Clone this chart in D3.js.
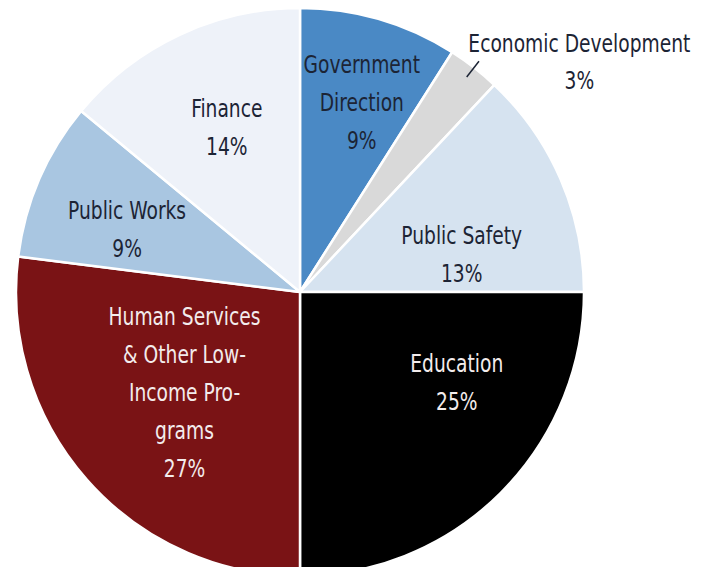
<!DOCTYPE html>
<html>
<head>
<meta charset="utf-8">
<script src="https://cdn.jsdelivr.net/npm/d3@7"></script>
<style>
  body { margin: 0; background: #fff; }
  svg text { font-family: "DejaVu Sans Condensed", "Liberation Sans Narrow", sans-serif; }
</style>
</head>
<body>
<div id="chart"></div>
<script>
// Budget shares, clockwise from 12 o'clock
const categories = ["Government Direction", "Economic Development", "Public Safety", "Education",
    "Human Services & Other Low-Income Programs", "Public Works", "Finance"];
const shares = [9, 3, 13, 25, 27, 9, 14];
const labelLines = [
    ["Government", "Direction"],
    ["Economic Development"],
    ["Public Safety"],
    ["Education"],
    ["Human Services", "& Other Low-", "Income Pro-", "grams"],
    ["Public Works"],
    ["Finance"]
];
const sliceColors = ["#4a89c5", "#d9d9d9", "#d6e3f0", "#000000", "#7a1315", "#a9c6e1", "#eef2f9"];
const textColors = ["#1c2435", "#1c2435", "#1c2435", "#f3ecec", "#f3ecec", "#1c2435", "#1c2435"];

// where each label block sits: [angle in degrees from 12 o'clock, distance from centre]
const labelSpots = [[18, 200], [50.5, 362], [77, 166], [120, 181], [229, 153], [290, 184], [336, 180]];

const width = 702, height = 567;
const cx = 300, cy = 292, radius = 284;
const fontSize = 25, lineH = 38;
const squeeze = 0.83; // the original face is a condensed one

const svg = d3.select("#chart").append("svg")
    .attr("width", width)
    .attr("height", height);

const g = svg.append("g").attr("transform", `translate(${cx},${cy})`);

const pie = d3.pie().sort(null).value(d => d.value);
const arc = d3.arc().innerRadius(0).outerRadius(radius);

const data = categories.map((c, i) => ({name: c, value: shares[i], lines: labelLines[i], i: i}));
const arcs = pie(data);

g.selectAll("path")
    .data(arcs)
    .join("path")
    .attr("d", arc)
    .attr("fill", d => sliceColors[d.data.i])
    .attr("stroke", "#ffffff")
    .attr("stroke-width", 2.5)
    .attr("stroke-linejoin", "round");

// leader line for the thin Economic Development slice
const econ = arcs[1];
const midA = (econ.startAngle + econ.endAngle) / 2;
const p1 = d3.pointRadial(midA, 272), p2 = d3.pointRadial(midA, 292);
g.append("line")
    .attr("x1", p1[0]).attr("y1", p1[1])
    .attr("x2", p2[0]).attr("y2", p2[1])
    .attr("stroke", "#1c2435")
    .attr("stroke-width", 1.5);

// labels
arcs.forEach(function(d) {
    const i = d.data.i;
    const spot = d3.pointRadial(labelSpots[i][0] * Math.PI / 180, labelSpots[i][1]);
    const lines = d.data.lines.concat([d.data.value + "%"]);
    const n = lines.length;
    const t = g.append("text")
        .attr("transform", `translate(${spot[0]},${spot[1]}) scale(${squeeze},1)`)
        .attr("text-anchor", "middle")
        .attr("font-size", fontSize)
        .attr("fill", textColors[i]);
    lines.forEach(function(line, k) {
        t.append("tspan")
            .attr("x", 0)
            .attr("y", (k - (n - 1) / 2) * lineH + fontSize * 0.35)
            .text(line);
    });
});
</script>
</body>
</html>
